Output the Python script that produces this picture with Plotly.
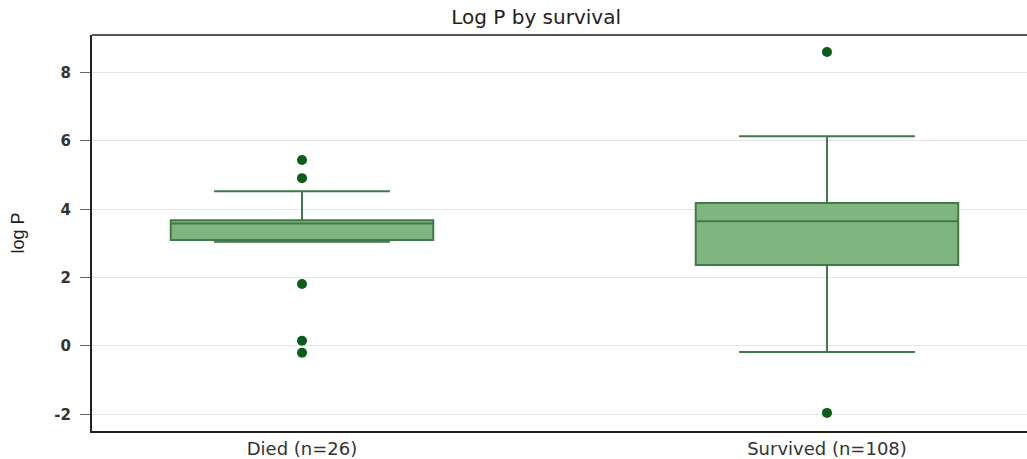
import plotly.graph_objects as go

categories = ["Died (n=26)", "Survived (n=108)"]
q1 = [3.10, 2.37]
median = [3.58, 3.65]
q3 = [3.68, 4.18]
lowerfence = [3.05, -0.18]
upperfence = [4.53, 6.14]
died_outliers = [5.44, 4.91, 1.81, 0.15, -0.20]
survived_outliers = [8.60, -1.96]
y_ticks = [-2, 0, 2, 4, 6, 8]
y_tick_labels = ["-2", "0", "2", "4", "6", "8"]

fig = go.Figure()
fig.add_trace(go.Box(
    x=categories, q1=q1, median=median, q3=q3,
    lowerfence=lowerfence, upperfence=upperfence,
    width=0.5, whiskerwidth=0.67,
    fillcolor="#80b57f", line=dict(color="#3f7a48", width=2),
    boxpoints=False, showlegend=False, hoverinfo="skip",
))
out_x = [categories[0]] * len(died_outliers) + [categories[1]] * len(survived_outliers)
out_y = died_outliers + survived_outliers
fig.add_trace(go.Scatter(
    x=out_x, y=out_y, mode="markers",
    marker=dict(color="#0e5c1c", size=10, symbol="circle"),
    showlegend=False, hoverinfo="skip",
))

fig.add_shape(type="line", xref="paper", yref="paper", x0=0, x1=1, y0=1, y1=1,
              line=dict(color="#555", width=2))

fig.update_layout(
    width=1027, height=459,
    margin=dict(l=92, r=0, t=35, b=28),
    paper_bgcolor="white", plot_bgcolor="white",
    title=dict(text="Log P by survival", x=0.522, xref="container", xanchor="center",
               y=0.962, yref="container", yanchor="middle",
               font=dict(family="DejaVu Sans", size=20, color="#222")),
)
fig.update_xaxes(
    type="category", range=[-0.4, 1.381],
    showline=True, linecolor="#222", linewidth=2,
    showgrid=False, ticks="", ticklabelstandoff=0,
    tickfont=dict(family="DejaVu Sans", size=18, color="#333"),
)
fig.update_yaxes(
    range=[-2.49, 9.1], tickvals=y_ticks, ticktext=y_tick_labels,
    showline=True, linecolor="#222", linewidth=2,
    showgrid=True, gridcolor="#e6e6e6", gridwidth=1, zeroline=False,
    ticks="outside", ticklen=10, tickcolor="#666", ticklabelstandoff=6,
    tickfont=dict(family="DejaVu Sans", size=15, color="#333", weight="bold"),
    title=dict(text="log P", font=dict(family="Liberation Sans", size=18, color="#222"), standoff=25),
)
fig.write_html("out.html")
